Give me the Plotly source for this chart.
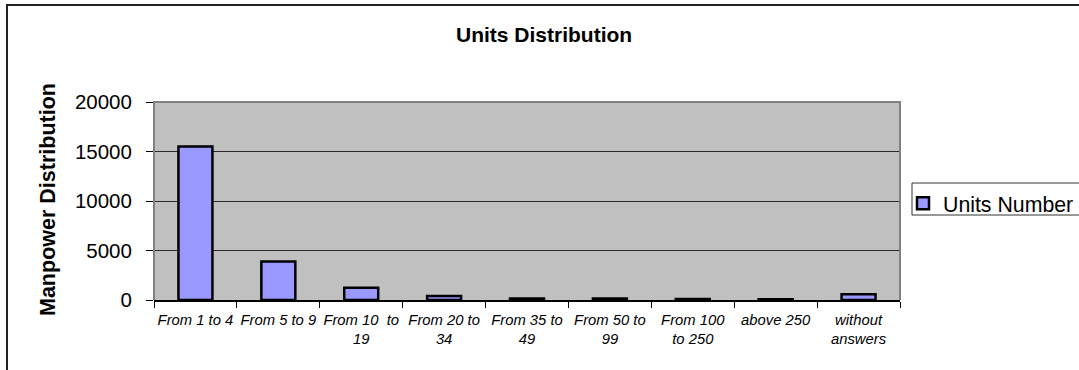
import plotly.graph_objects as go

# Establishment size classes and the number of units in each
categories = [
    "From 1 to 4", "From 5 to 9", "From 10  to<br>19", "From 20 to<br>34",
    "From 35 to<br>49", "From 50 to<br>99", "From 100<br>to 250", "above 250",
    "without<br>answers",
]
units_number = [15500, 3900, 1250, 400, 150, 140, 90, 70, 580]
y_ticks = [0, 5000, 10000, 15000, 20000]

FONT = "Liberation Sans, Arial, sans-serif"

fig = go.Figure()
fig.add_trace(go.Bar(
    x=categories,
    y=units_number,
    name="Units Number",
    width=0.41,
    marker=dict(color="#9999FF", line=dict(color="#000000", width=2.5)),
))

# plot area: 154..900 px horizontally, 102..300 px vertically
L, R, T, B = 154, 900, 102, 300
W, H = 1079, 370
pw, ph = R - L, B - T

def px_x(px):
    return (px - L) / pw

def px_y(py):
    return (B - py) / ph

fig.update_layout(
    width=W, height=H,
    margin=dict(l=L, r=W - R, t=T, b=H - B, pad=0, autoexpand=False),
    paper_bgcolor="#FFFFFF",
    plot_bgcolor="#C0C0C0",
    font=dict(family=FONT, color="#000000"),
    showlegend=True,
    legend=dict(
        x=px_x(903), y=px_y(183), xanchor="left", yanchor="top",
        font=dict(family=FONT, size=21.3, color="#000000"),
        bgcolor="rgba(0,0,0,0)", borderwidth=0,
        itemwidth=30,
    ),
    xaxis=dict(
        type="category",
        tickson="boundaries",
        ticks="outside", ticklen=6, tickcolor="#000000", tickwidth=1,
        ticklabelstandoff=5,
        showline=True, linecolor="#000000", linewidth=1.5,
        showgrid=False, zeroline=False,
        tickfont=dict(family=FONT, size=14.8, color="#000000", style="italic"),
        tickangle=0,
        range=[-0.5, len(categories) - 0.5],
    ),
    yaxis=dict(
        range=[0, 20000],
        tickvals=y_ticks,
        ticktext=[str(v) for v in y_ticks],
        ticks="outside", ticklen=7, tickcolor="#000000", tickwidth=1,
        ticklabelstandoff=10,
        showline=False,
        showgrid=True, gridcolor="#2A2A2A", gridwidth=1,
        zeroline=False,
        tickfont=dict(family=FONT, size=20.5, color="#000000"),
    ),
    shapes=[
        # outer chart border
        dict(type="rect", xref="paper", yref="paper",
             x0=px_x(7), x1=px_x(1095), y0=px_y(390), y1=px_y(5),
             line=dict(color="#222222", width=2), layer="below"),
        # plot area frame (left, top, right)
        dict(type="path", xref="paper", yref="paper",
             path="M 0 0 L 0 1 L 1 1 L 1 0",
             line=dict(color="#808080", width=2), layer="above"),
        # legend box
        dict(type="rect", xref="paper", yref="paper",
             x0=px_x(912), x1=px_x(1095), y0=px_y(215), y1=px_y(183),
             line=dict(color="#333333", width=1), fillcolor="rgba(0,0,0,0)"),
    ],
    annotations=[
        dict(text="<b>Units Distribution</b>", xref="paper", yref="paper",
             x=px_x(544), y=px_y(35), xanchor="center", yanchor="middle",
             showarrow=False, font=dict(family=FONT, size=21, color="#000000")),
        dict(text="<b>Manpower Distribution</b>", xref="paper", yref="paper",
             x=px_x(48), y=px_y(199), xanchor="center", yanchor="middle",
             textangle=-90, showarrow=False,
             font=dict(family=FONT, size=21.5, color="#000000")),
    ],
)

fig.write_html("out.html")
